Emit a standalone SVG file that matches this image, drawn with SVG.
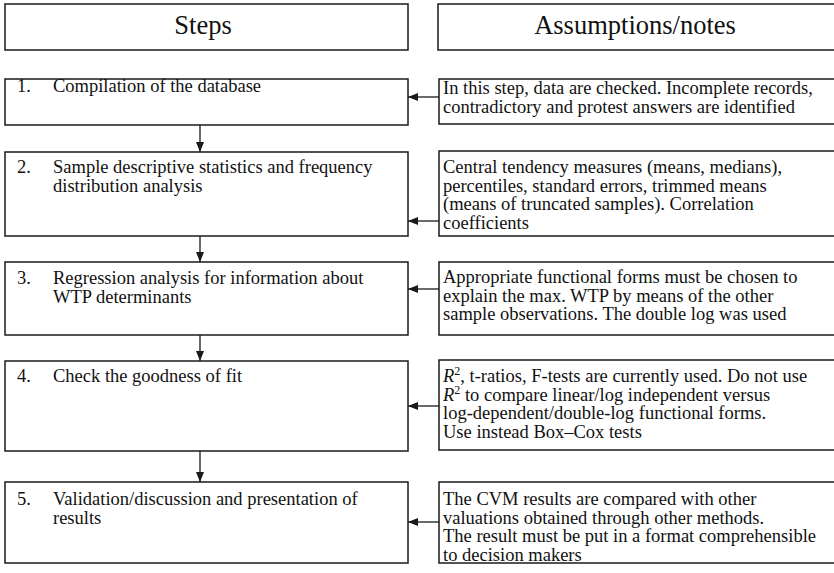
<svg xmlns="http://www.w3.org/2000/svg" width="834" height="573" viewBox="0 0 834 573" font-family="Liberation Serif, DejaVu Serif, serif">
  <style>
    .box{fill:#fff;stroke:#1a1a1a;stroke-width:1.5}
    .hdr{font-size:26.5px;fill:#111;text-anchor:middle}
    .t{font-size:18.5px;fill:#111}
    .conn{stroke:#1a1a1a;stroke-width:1.3;fill:none;marker-end:url(#ah)}
  </style>
  <defs>
    <marker id="ah" markerUnits="userSpaceOnUse" markerWidth="10" markerHeight="8" viewBox="0 0 10 8" refX="10" refY="4" orient="auto">
      <path d="M0,0 L10,4 L0,8 Z" fill="#1a1a1a"/>
    </marker>
  </defs>
  <rect width="834" height="573" fill="#fff"/>

  <!-- column headers -->
  <g id="hdr-steps">
    <rect class="box" x="5" y="4" width="403" height="46"/>
    <text class="hdr" x="203" y="34">Steps</text>
  </g>
  <g id="hdr-notes">
    <rect class="box" x="438" y="4" width="402" height="46"/>
    <text class="hdr" x="635" y="34">Assumptions/notes</text>
  </g>

  <!-- steps -->
  <g id="step1">
    <rect class="box" x="5" y="79" width="403" height="46"/>
    <text class="t" x="17" y="92">1.</text>
    <text class="t" x="53" y="92">Compilation of the database</text>
  </g>
  <g id="step2">
    <rect class="box" x="5" y="152" width="403" height="84"/>
    <text class="t" x="17" y="173">2.</text>
    <text class="t" x="53" y="173">Sample descriptive statistics and frequency</text>
    <text class="t" x="53" y="191.5">distribution analysis</text>
  </g>
  <g id="step3">
    <rect class="box" x="5" y="262" width="403" height="73"/>
    <text class="t" x="17" y="284">3.</text>
    <text class="t" x="53" y="284">Regression analysis for information about</text>
    <text class="t" x="53" y="302.5">WTP determinants</text>
  </g>
  <g id="step4">
    <rect class="box" x="5" y="361" width="403" height="90"/>
    <text class="t" x="17" y="382">4.</text>
    <text class="t" x="53" y="382">Check the goodness of fit</text>
  </g>
  <g id="step5">
    <rect class="box" x="5" y="482" width="403" height="81"/>
    <text class="t" x="17" y="505">5.</text>
    <text class="t" x="53" y="505">Validation/discussion and presentation of</text>
    <text class="t" x="53" y="523.5">results</text>
  </g>

  <!-- notes -->
  <g id="note1">
    <rect class="box" x="439" y="79" width="402" height="45"/>
    <text class="t" x="443" y="94">In this step, data are checked. Incomplete records,</text>
    <text class="t" x="443" y="112.5">contradictory and protest answers are identified</text>
  </g>
  <g id="note2">
    <rect class="box" x="439" y="151" width="402" height="85"/>
    <text class="t" x="443" y="173">Central tendency measures (means, medians),</text>
    <text class="t" x="443" y="191.5">percentiles, standard errors, trimmed means</text>
    <text class="t" x="443" y="210">(means of truncated samples). Correlation</text>
    <text class="t" x="443" y="228.5">coefficients</text>
  </g>
  <g id="note3">
    <rect class="box" x="439" y="262" width="402" height="73"/>
    <text class="t" x="443" y="283">Appropriate functional forms must be chosen to</text>
    <text class="t" x="443" y="301.5">explain the max. WTP by means of the other</text>
    <text class="t" x="443" y="320">sample observations. The double log was used</text>
  </g>
  <g id="note4">
    <rect class="box" x="439" y="360" width="402" height="90"/>
    <text class="t" x="443" y="382"><tspan font-style="italic">R</tspan><tspan font-size="12" dy="-7">2</tspan><tspan dy="7">, t-ratios, F-tests are currently used. Do not use</tspan></text>
    <text class="t" x="443" y="400.5"><tspan font-style="italic">R</tspan><tspan font-size="12" dy="-7">2</tspan><tspan dy="7"> to compare linear/log independent versus</tspan></text>
    <text class="t" x="443" y="419">log-dependent/double-log functional forms.</text>
    <text class="t" x="443" y="437.5">Use instead Box–Cox tests</text>
  </g>
  <g id="note5">
    <rect class="box" x="439" y="482" width="402" height="81"/>
    <text class="t" x="443" y="505">The CVM results are compared with other</text>
    <text class="t" x="443" y="523.5">valuations obtained through other methods.</text>
    <text class="t" x="443" y="542">The result must be put in a format comprehensible</text>
    <text class="t" x="443" y="560.5">to decision makers</text>
  </g>

  <!-- connectors -->
  <g id="connectors">
    <line class="conn" x1="200" y1="125" x2="200" y2="152"/>
    <line class="conn" x1="200" y1="236" x2="200" y2="262"/>
    <line class="conn" x1="200" y1="335" x2="200" y2="361"/>
    <line class="conn" x1="200" y1="451" x2="200" y2="482"/>
    <line class="conn" x1="439" y1="97" x2="408" y2="97"/>
    <line class="conn" x1="439" y1="221" x2="408" y2="221"/>
    <line class="conn" x1="439" y1="289" x2="408" y2="289"/>
    <line class="conn" x1="439" y1="406" x2="408" y2="406"/>
    <line class="conn" x1="439" y1="522" x2="408" y2="522"/>
  </g>
</svg>
